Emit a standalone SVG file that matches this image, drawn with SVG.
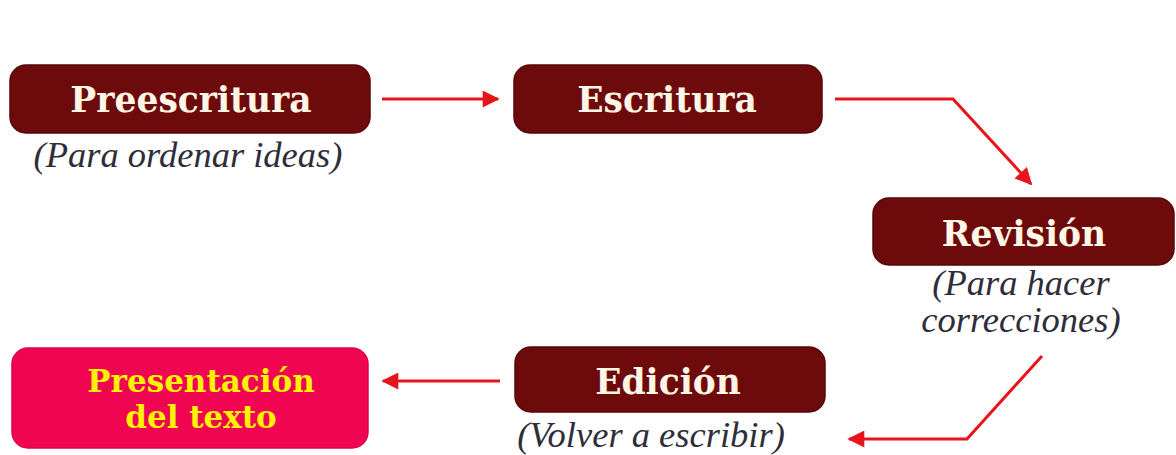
<svg xmlns="http://www.w3.org/2000/svg" width="1176" height="455" viewBox="0 0 1176 455">
<style>
.box{fill:#6d0b0c;stroke:#5a0608;stroke-width:1.5}
.pbox{fill:#ef0552;stroke:#e0004a;stroke-width:1.5}
.lbl{font-family:'DejaVu Serif',serif;font-weight:bold;font-size:34.5px;fill:#fff6e6;text-anchor:middle}
.plbl{font-family:'DejaVu Serif',serif;font-weight:bold;font-size:31px;fill:#fff200;text-anchor:middle}
.sub{font-family:'Liberation Serif','DejaVu Serif',serif;font-style:italic;font-size:36.5px;fill:#2e2e3a;text-anchor:middle}
.con{fill:none;stroke:#e8141c;stroke-width:3}
</style>
<defs>
<marker id="ah" viewBox="0 0 10 10" refX="9" refY="5" markerWidth="18" markerHeight="17" markerUnits="userSpaceOnUse" orient="auto">
<path d="M0,0 L10,5 L0,10 z" fill="#e8141c"/>
</marker>
</defs>
<rect width="1176" height="455" fill="#ffffff"/>
<g id="connectors">
<path class="con" d="M382,99 L498,99" marker-end="url(#ah)"/>
<path class="con" d="M835,99 L953,99 L1031,184" marker-end="url(#ah)"/>
<path class="con" d="M1042,356 L967,439 L849,439" marker-end="url(#ah)"/>
<path class="con" d="M500,381 L383,381" marker-end="url(#ah)"/>
</g>
<g id="preescritura">
<rect class="box" x="10" y="65" width="360" height="68" rx="16"/>
<text class="lbl" x="191" y="112">Preescritura</text>
<text class="sub" x="188" y="167">(Para ordenar ideas)</text>
</g>
<g id="escritura">
<rect class="box" x="514" y="65" width="308" height="68" rx="16"/>
<text class="lbl" x="667" y="112">Escritura</text>
</g>
<g id="revision">
<rect class="box" x="873" y="198" width="301" height="67" rx="16"/>
<text class="lbl" x="1024" y="246">Revisión</text>
<text class="sub" x="1021" y="295">(Para hacer</text>
<text class="sub" x="1021" y="332">correcciones)</text>
</g>
<g id="edicion">
<rect class="box" x="515" y="347" width="310" height="65" rx="16"/>
<text class="lbl" x="668" y="394">Edición</text>
<text class="sub" x="651" y="447">(Volver a escribir)</text>
</g>
<g id="presentacion">
<rect class="pbox" x="12" y="348" width="356" height="100" rx="16"/>
<text class="plbl" x="201" y="392">Presentación</text>
<text class="plbl" x="201" y="428">del texto</text>
</g>
</svg>
